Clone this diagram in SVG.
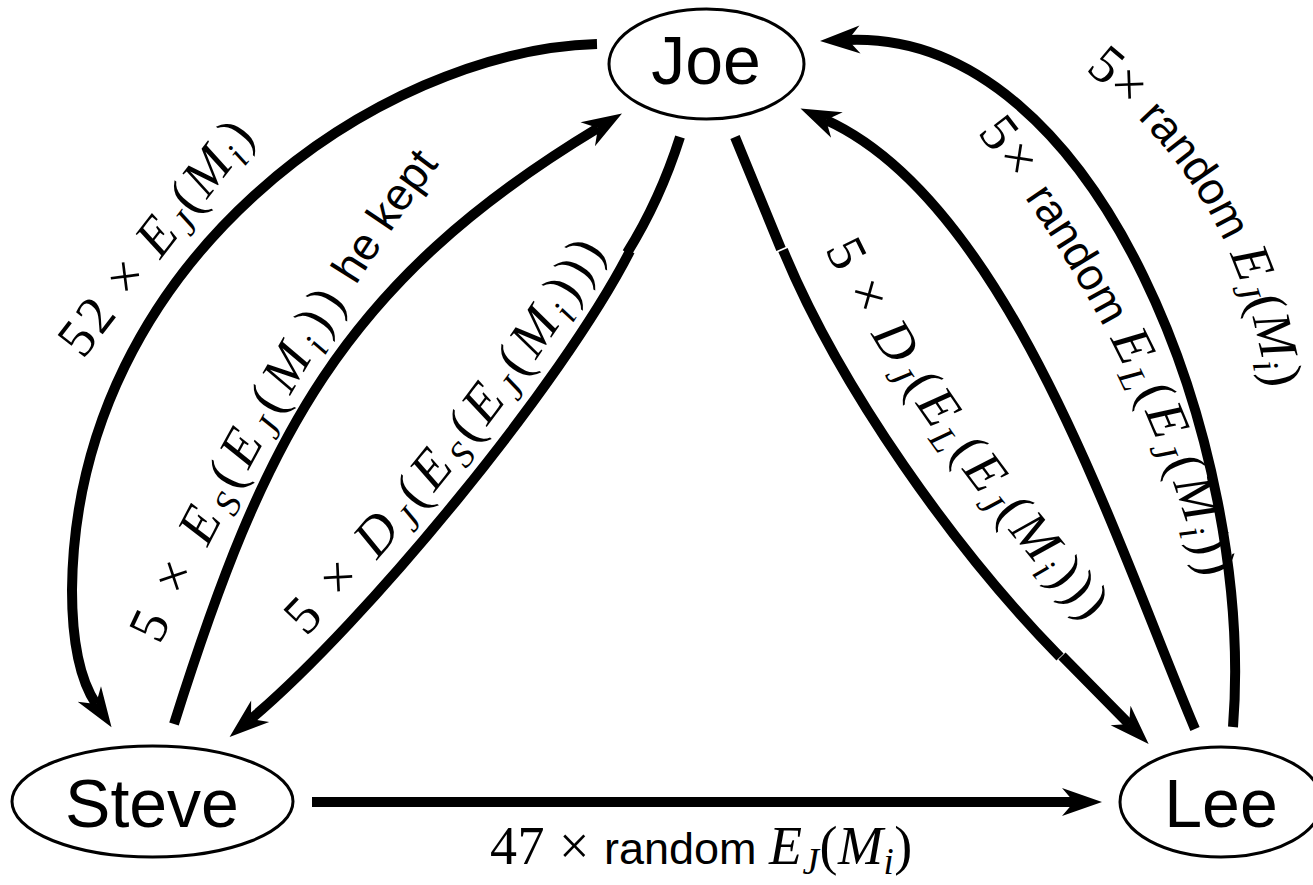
<svg xmlns="http://www.w3.org/2000/svg" width="1313" height="885" viewBox="0 0 1313 885">
<style>
.c { fill: none; stroke: #000; stroke-width: 10; }
.n ellipse { fill: #fff; stroke: #000; stroke-width: 3; }
.n text { font-family: "Liberation Sans", Arial, sans-serif; font-size: 68px; text-anchor: middle; }
.m { font-family: "Liberation Serif", "Times New Roman", serif; font-size: 54px; letter-spacing: 3px; }
.i { font-style: italic; }
.s { font-style: italic; font-size: 37px; }
.t { font-family: "Liberation Sans", Arial, sans-serif; font-size: 45px; letter-spacing: 0; }
</style>
<defs>
<marker id="ah" markerUnits="userSpaceOnUse" markerWidth="60" markerHeight="40" viewBox="0 -20 60 40" refX="12" refY="0" orient="auto" overflow="visible">
<path d="M0,-14 L40,0 L0,14 L12,0 Z" fill="#000"/>
</marker>
<path id="pA" d="M 83 360 L 290 92"/>
<path id="pB" d="M 160 645 C 223 508, 354 271, 447 154 L 490 100"/>
<path id="pC" d="M 237 702 C 349 608, 543 372, 610 241 L 636 190"/>
<path id="pD" d="M 825 249 C 880 367, 998 526, 1086 621 L 1128 666"/>
<path id="pE" d="M 977 133 C 1076 258, 1160 415, 1200 570 L 1215 630"/>
<path id="pF" d="M 1085 70 C 1165 135, 1235 220, 1262 360 L 1274 420"/>
</defs>
<g id="connectors">
<path id="e-joe-steve-52" class="c" d="M 597 44 C 380 50, 75 260, 72 590 C 72 640, 80 680, 96 704" marker-end="url(#ah)"/>
<path id="e-steve-joe" class="c" d="M 174 724 C 264 439, 341 283, 598 128" marker-end="url(#ah)"/>
<path id="e-joe-steve-dj" class="c" d="M 680 137 Q 660 200 627 253 M 630 251 C 562 384, 366 622, 251 719" marker-end="url(#ah)"/>
<path id="e-joe-lee-dj" class="c" d="M 735 137 L 781 249 M 783 250 C 840 388, 955 550, 1060 657 M 1062 656 L 1129 724" marker-end="url(#ah)"/>
<path id="e-lee-joe-el" class="c" d="M 1195 729 C 1117 545, 1009 203, 826 120" marker-end="url(#ah)"/>
<path id="e-lee-joe-ej" class="c" d="M 1233 727 C 1255 450, 1100 30, 848 40" marker-end="url(#ah)"/>
<path id="e-steve-lee" class="c" d="M 312 802 L 1074 802" marker-end="url(#ah)"/>
</g>
<g id="labels" class="m">
<text><textPath href="#pA">52 × <tspan class="i">E</tspan><tspan class="s" dy="10">J</tspan><tspan dy="-10">(</tspan><tspan class="i">M</tspan><tspan class="s" dy="10">i</tspan><tspan dy="-10">)</tspan></textPath></text>
<text style="letter-spacing:6px"><textPath href="#pB">5 × <tspan class="i">E</tspan><tspan class="s" dy="10">S</tspan><tspan dy="-10">(</tspan><tspan class="i">E</tspan><tspan class="s" dy="10">J</tspan><tspan dy="-10">(</tspan><tspan class="i">M</tspan><tspan class="s" dy="10">i</tspan><tspan dy="-10">))</tspan><tspan class="t"> he kept</tspan></textPath></text>
<text style="letter-spacing:5px"><textPath href="#pC" startOffset="95">5 × <tspan class="i">D</tspan><tspan class="s" dy="10">J</tspan><tspan dy="-10">(</tspan><tspan class="i">E</tspan><tspan class="s" dy="10">S</tspan><tspan dy="-10">(</tspan><tspan class="i">E</tspan><tspan class="s" dy="10">J</tspan><tspan dy="-10">(</tspan><tspan class="i">M</tspan><tspan class="s" dy="10">i</tspan><tspan dy="-10">)))</tspan></textPath></text>
<text><textPath href="#pD">5 × <tspan class="i">D</tspan><tspan class="s" dy="10">J</tspan><tspan dy="-10">(</tspan><tspan class="i">E</tspan><tspan class="s" dy="10">L</tspan><tspan dy="-10">(</tspan><tspan class="i">E</tspan><tspan class="s" dy="10">J</tspan><tspan dy="-10">(</tspan><tspan class="i">M</tspan><tspan class="s" dy="10">i</tspan><tspan dy="-10">)))</tspan></textPath></text>
<text><textPath href="#pE">5× <tspan class="t">random </tspan><tspan class="i">E</tspan><tspan class="s" dy="10">L</tspan><tspan dy="-10">(</tspan><tspan class="i">E</tspan><tspan class="s" dy="10">J</tspan><tspan dy="-10">(</tspan><tspan class="i">M</tspan><tspan class="s" dy="10">i</tspan><tspan dy="-10">))</tspan></textPath></text>
<text style="letter-spacing:0"><textPath href="#pF">5× <tspan class="t">random </tspan><tspan class="i">E</tspan><tspan class="s" dy="10">J</tspan><tspan dy="-10">(</tspan><tspan class="i">M</tspan><tspan class="s" dy="10">i</tspan><tspan dy="-10">)</tspan></textPath></text>
<text x="490" y="864" style="letter-spacing:0.5px">47 × <tspan class="t">random </tspan><tspan class="i">E</tspan><tspan class="s" dy="10">J</tspan><tspan dy="-10">(</tspan><tspan class="i">M</tspan><tspan class="s" dy="10">i</tspan><tspan dy="-10">)</tspan></text>
</g>
<g id="joe" class="n">
<ellipse cx="706.5" cy="64" rx="97.5" ry="55"/>
<text x="706" y="84">Joe</text>
</g>
<g id="steve" class="n">
<ellipse cx="152.5" cy="801.5" rx="140.5" ry="55.5"/>
<text x="152" y="827">Steve</text>
</g>
<g id="lee" class="n">
<ellipse cx="1221" cy="802" rx="101" ry="55"/>
<text x="1221" y="827">Lee</text>
</g>
</svg>
